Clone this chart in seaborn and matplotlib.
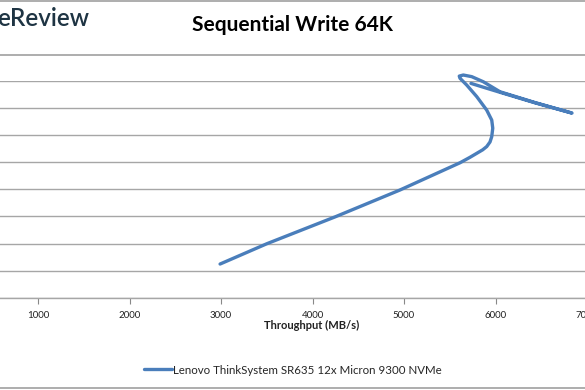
import matplotlib
matplotlib.use("Agg")
import matplotlib.pyplot as plt
import seaborn as sns
import pandas as pd
from matplotlib.lines import Line2D

sns.set_theme(style="white")
plt.rcParams['font.family'] = ['Lato', 'DejaVu Sans']

title = "Sequential Write 64K"
x_label = "Throughput (MB/s)"
series_name = "Lenovo ThinkSystem SR635 12x Micron 9300 NVMe"
x_ticks = [0, 1000, 2000, 3000, 4000, 5000, 6000, 7000]
x_tick_labels = ["", "1000", "2000", "3000", "4000", "5000", "6000", "7000"]
y_ticks = [0, 1, 2, 3, 4, 5, 6, 7, 8]

# values (throughput MB/s, latency units)
throughput = [2990, 3500, 4250, 4955, 5612, 5720, 5795, 5860, 5904, 5940, 5959, 5970, 5959,
              5904, 5795, 5685, 5612, 5604, 5648, 5740, 5867, 6049, 6432,
              6836, 6432, 6049, 5904, 5732]
latency = [1.24, 1.99, 2.99, 3.98, 4.99, 5.19, 5.34, 5.47, 5.59, 5.76, 5.96, 6.27, 6.57,
           6.94, 7.44, 7.87, 8.12, 8.20, 8.24, 8.18, 7.99, 7.62, 7.22,
           6.83, 7.21, 7.60, 7.75, 7.93]

df = pd.DataFrame({"x": throughput, "y": latency, "s": series_name})

fig = plt.figure(figsize=(5.85, 3.9), dpi=100)
ax = fig.add_axes([-53.5 / 585, (390 - 297.5) / 390, 640.5 / 585, 216 / 390])

sns.lineplot(data=df, x="x", y="y", hue="s", sort=False, estimator=None,
             palette=["#4A7EBB"], linewidth=2.4, ax=ax, legend=False)
for ln in ax.lines:
    ln.set_clip_on(False)
    ln.set_solid_joinstyle("round")
    ln.set_solid_capstyle("round")

ax.set_xlim(0, 7000)
ax.set_ylim(0, 8)
ax.set_xticks(x_ticks)
ax.set_yticks(y_ticks)
ax.set_yticklabels([])
ax.set_xticklabels(x_tick_labels, fontsize=7, color="#222222")
ax.tick_params(axis="x", direction="out", length=4, width=0.8, color="#888888",
               pad=6, bottom=True)
ax.tick_params(axis="y", length=0)
ax.grid(axis="y", color="#A6A6A6", linewidth=1.0)
ax.set_axisbelow(True)
for side in ["top", "right", "left"]:
    ax.spines[side].set_visible(False)
ax.spines["bottom"].set_color("#A6A6A6")
ax.spines["bottom"].set_linewidth(1.0)
ax.set_xlabel(x_label, fontsize=8, fontweight="bold", color="#222222")
ax.xaxis.set_label_coords((312 + 53.5) / 640.5, -(325 - 297.5) / 216, transform=ax.transAxes)
ax.xaxis.label.set_va("center")
ax.set_ylabel("")

fig.text(292 / 585, 1 - 25 / 390, title, ha="center", va="center",
         fontsize=15, fontweight="bold", color="#000000")
fig.text(-3 / 585, 1 - 18 / 390, "eReview", ha="left", va="center",
         fontsize=17.5, fontweight="semibold", color="#1E3443")

# legend
handle = Line2D([0], [0], color="#4A7EBB", linewidth=2.4)
fig.legend([handle], [series_name], loc="center", bbox_to_anchor=(293 / 585, 1 - 370 / 390),
           frameon=False, fontsize=8.3, handlelength=2.4, handletextpad=0.15)

# frame lines of the image
for yy in [1, 54.5, 388]:
    fig.add_artist(Line2D([0, 1], [1 - yy / 390, 1 - yy / 390], color="#A0A0A0",
                          linewidth=1.2, transform=fig.transFigure))

fig.savefig("out.png", dpi=100)
